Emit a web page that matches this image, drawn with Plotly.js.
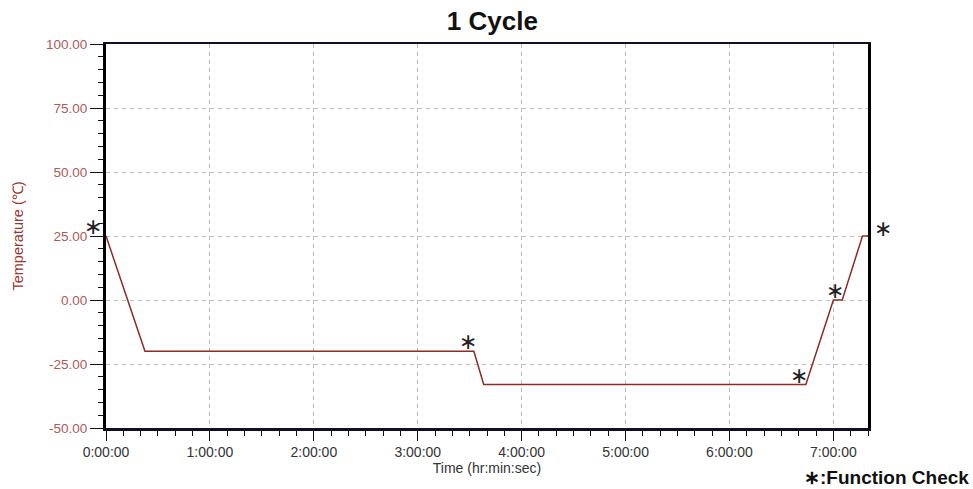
<!DOCTYPE html>
<html>
<head>
<meta charset="utf-8">
<script src="https://cdn.plot.ly/plotly-3.0.1.min.js"></script>
<style>html,body{margin:0;padding:0;background:#fff;}#chart{width:973px;height:489px;}</style>
</head>
<body>
<div id="chart"></div>
<script>
// Profile of one temperature cycle (time in hours, temperature in °C)
const timeHours = [0, 0.375, 3.54, 3.635, 6.735, 7.0, 7.085, 7.28, 7.333];
const temperature = [25, -20, -20, -33, -33, 0, 0, 25, 25];

// Function-check markers (*)
const checkTimes = [0, 3.54, 6.735, 7.0, 7.333];
const checkTemps = [25, -20, -33, 0, 25];
const checkXShift = [-13, -6, -7, 2, 15];
const checkYShift = [10, 10, 9, 10, 8];

// Axis tick labels
const xTickVals = [0, 1, 2, 3, 4, 5, 6, 7];
const xTickText = ["0:00:00", "1:00:00", "2:00:00", "3:00:00", "4:00:00", "5:00:00", "6:00:00", "7:00:00"];
const yTickVals = [-50, -25, 0, 25, 50, 75, 100];
const yTickText = ["-50.00", "-25.00", "0.00", "25.00", "50.00", "75.00", "100.00"];

const trace = {
  x: timeHours,
  y: temperature,
  type: 'scatter',
  mode: 'lines',
  line: {color: '#8e2b24', width: 1.5},
  hoverinfo: 'skip',
  showlegend: false
};

const annotations = checkTimes.map((t, i) => ({
  x: t, y: checkTemps[i], xref: 'x', yref: 'y',
  text: '∗', showarrow: false,
  xshift: checkXShift[i], yshift: checkYShift[i],
  font: {family: 'DejaVu Sans', size: 22, color: '#222'},
  xanchor: 'center', yanchor: 'middle'
}));

annotations.push({
  xref: 'paper', yref: 'paper', x: 1.135, y: -0.128,
  xanchor: 'right', yanchor: 'middle', showarrow: false,
  text: '<b>∗:Function Check</b>',
  font: {family: 'Liberation Sans, Arial', size: 19, color: '#111'}
});

const layout = {
  width: 973, height: 489,
  margin: {l: 106, r: 105, t: 44, b: 61},
  paper_bgcolor: '#ffffff',
  plot_bgcolor: '#ffffff',
  font: {family: 'Liberation Sans, Arial', size: 14, color: '#333'},
  title: {
    text: '<b>1 Cycle</b>',
    font: {family: 'Liberation Sans, Arial', size: 26, color: '#111'},
    xref: 'container', yref: 'container',
    x: 0.506, y: 0.958, xanchor: 'center', yanchor: 'middle'
  },
  xaxis: {
    range: [0, 7.333],
    tickmode: 'array', tickvals: xTickVals, ticktext: xTickText,
    ticks: 'outside', ticklen: 10, tickwidth: 1, tickcolor: '#111',
    tickfont: {family: 'Liberation Sans, Arial', size: 14, color: '#333'},
    minor: {tickmode: 'linear', tick0: 0, dtick: 1/6, ticks: 'outside', ticklen: 5, tickcolor: '#111', showgrid: false},
    showgrid: true, gridcolor: '#bdbdbd', griddash: '4px,4px', gridwidth: 1,
    showline: true, linecolor: '#101020', linewidth: 2.5, mirror: true,
    zeroline: false,
    title: {text: 'Time (hr:min:sec)', font: {family: 'Liberation Sans, Arial', size: 14, color: '#333'}, standoff: 0},
    automargin: false, fixedrange: true
  },
  yaxis: {
    range: [-50, 100],
    tickmode: 'array', tickvals: yTickVals, ticktext: yTickText,
    ticks: 'outside', ticklen: 13, tickwidth: 1, tickcolor: '#111',
    tickfont: {family: 'Liberation Sans, Arial', size: 13.5, color: '#b05a55'},
    minor: {tickmode: 'linear', tick0: 0, dtick: 5, ticks: 'outside', ticklen: 5, tickcolor: '#111', showgrid: false},
    showgrid: true, gridcolor: '#bdbdbd', griddash: '4px,4px', gridwidth: 1,
    showline: true, linecolor: '#000', linewidth: 3, mirror: true,
    zeroline: false,
    title: {text: 'Temperature (℃)', font: {family: 'Liberation Sans, Arial', size: 14.5, color: '#9a3530'}, standoff: 19},
    automargin: false, fixedrange: true
  },
  annotations: annotations
};

Plotly.newPlot('chart', [trace], layout, {displayModeBar: false, staticPlot: true});
</script>
</body>
</html>
